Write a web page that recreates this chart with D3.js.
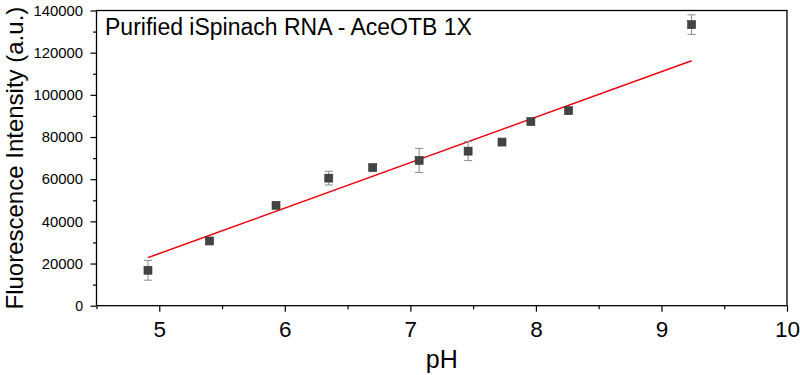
<!DOCTYPE html>
<html>
<head>
<meta charset="utf-8">
<script src="https://cdn.jsdelivr.net/npm/d3@7/dist/d3.min.js"></script>
<style>
  html, body { margin: 0; padding: 0; background: #fff; }
  svg { display: block; font-family: "Liberation Sans", Arial, sans-serif; }
</style>
</head>
<body>
<svg id="chart" width="800" height="375"></svg>
<script>
// Data
const pH        = [4.91, 5.40, 5.93, 6.35, 6.70, 7.07, 7.46, 7.73, 7.96, 8.26, 9.24];
const intensity = [16800, 30700, 47600, 60500, 65500, 68900, 73300, 77600, 87300, 92500, 133300];
const errors    = [4700, 1100, 600, 3250, 900, 5700, 4500, 1300, 700, 1300, 4650];
const fitSlope = 21570;
const fitIntercept = -83110;
const xTicks = [5, 6, 7, 8, 9, 10];
const yTicks = [0, 20000, 40000, 60000, 80000, 100000, 120000, 140000];
const titleText = "Purified iSpinach RNA - AceOTB 1X";
const xLabel = "pH";
const yLabel = "Fluorescence Intensity (a.u.)";

const svg = d3.select("#chart");
const mLeft = 96.5, mRight = 787, mTop = 10.5, mBottom = 305.7;

const x = d3.scaleLinear().domain([4.5, 10]).range([mLeft, mRight]);
const y = d3.scaleLinear().domain([0, 140000]).range([mBottom, mTop]);

const points = pH.map((v, i) => ({ x: v, y: intensity[i], e: errors[i] }));

// frame
svg.append("rect")
  .attr("x", mLeft).attr("y", mTop)
  .attr("width", mRight - mLeft).attr("height", mBottom - mTop)
  .attr("fill", "none").attr("stroke", "#000").attr("stroke-width", 1.3);

// minor ticks
const xMinor = d3.range(4.5, 10.01, 0.5).filter(v => !xTicks.includes(v));
svg.append("g").attr("transform", `translate(0,${mBottom})`)
  .call(d3.axisBottom(x).tickValues(xMinor).tickSize(3.5).tickFormat(""))
  .call(g => g.select(".domain").remove())
  .call(g => g.selectAll("line").attr("stroke-width", 1.2));
const yMinor = d3.range(10000, 140000, 20000);
svg.append("g").attr("transform", `translate(${mLeft},0)`)
  .call(d3.axisLeft(y).tickValues(yMinor).tickSize(3.5).tickFormat(""))
  .call(g => g.select(".domain").remove())
  .call(g => g.selectAll("line").attr("stroke-width", 1.2));

// major axes
const xAxis = svg.append("g").attr("transform", `translate(0,${mBottom})`)
  .call(d3.axisBottom(x).tickValues(xTicks).tickSize(6).tickPadding(9).tickFormat(d3.format("d")));
xAxis.select(".domain").remove();
xAxis.selectAll("line").attr("stroke-width", 1.2);
xAxis.selectAll("text").attr("font-size", 22.5).attr("font-family", "Liberation Sans, Arial, sans-serif").attr("fill", "#000");

const yAxis = svg.append("g").attr("transform", `translate(${mLeft},0)`)
  .call(d3.axisLeft(y).tickValues(yTicks).tickSize(6).tickPadding(7.5).tickFormat(d3.format("d")));
yAxis.select(".domain").remove();
yAxis.selectAll("line").attr("stroke-width", 1.2);
yAxis.selectAll("text")
  .attr("font-size", 15).attr("font-family", "Liberation Sans, Arial, sans-serif").attr("fill", "#000")
  .attr("textLength", d => String(d).length * 8.35 - 0.5)
  .attr("lengthAdjust", "spacingAndGlyphs");

// fit line
const fitX = d3.extent(pH);
svg.append("path")
  .datum(fitX.map(v => [v, fitSlope * v + fitIntercept]))
  .attr("d", d3.line().x(d => x(d[0])).y(d => y(d[1])))
  .attr("stroke", "#e8000b").attr("stroke-width", 1.5).attr("fill", "none");

// error bars
const eb = svg.append("g").attr("stroke", "#8a8a8a").attr("stroke-width", 1);
eb.selectAll(".v").data(points).join("line").attr("class", "v")
  .attr("x1", d => x(d.x)).attr("x2", d => x(d.x))
  .attr("y1", d => y(d.y - d.e)).attr("y2", d => y(d.y + d.e));
eb.selectAll(".t").data(points).join("line").attr("class", "t")
  .attr("x1", d => x(d.x) - 4).attr("x2", d => x(d.x) + 4)
  .attr("y1", d => y(d.y + d.e)).attr("y2", d => y(d.y + d.e));
eb.selectAll(".b").data(points).join("line").attr("class", "b")
  .attr("x1", d => x(d.x) - 4).attr("x2", d => x(d.x) + 4)
  .attr("y1", d => y(d.y - d.e)).attr("y2", d => y(d.y - d.e));

// markers
svg.append("g").selectAll("rect").data(points).join("rect")
  .attr("x", d => x(d.x) - 4).attr("y", d => y(d.y) - 4)
  .attr("width", 8).attr("height", 8)
  .attr("fill", "#434343").attr("stroke", "#333").attr("stroke-width", 0.6);

// title
svg.append("text").attr("x", 105).attr("y", 35)
  .attr("font-size", 23).attr("fill", "#000").text(titleText);

// axis labels
svg.append("text").attr("x", (mLeft + mRight) / 2).attr("y", 368)
  .attr("text-anchor", "middle").attr("font-size", 25).attr("fill", "#000").text(xLabel);
svg.append("text")
  .attr("transform", `translate(22.5,${(mTop + mBottom) / 2}) rotate(-90)`)
  .attr("text-anchor", "middle").attr("font-size", 24).attr("fill", "#000").text(yLabel);
</script>
</body>
</html>
